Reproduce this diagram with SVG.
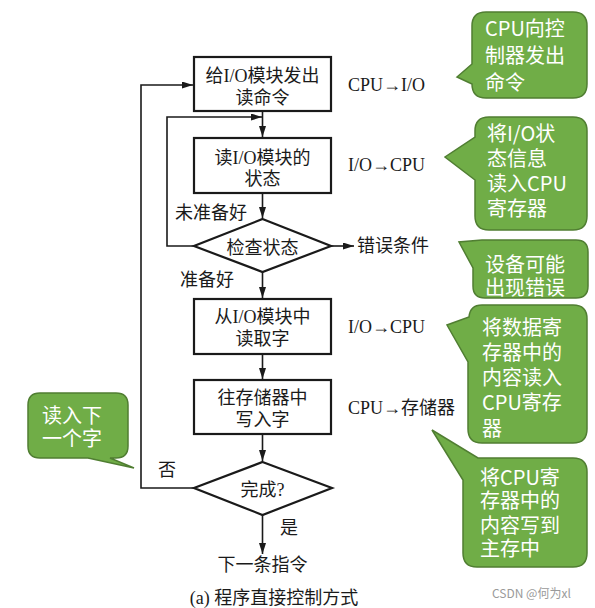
<svg xmlns="http://www.w3.org/2000/svg" width="595" height="608" viewBox="0 0 595 608">
<style>
.bg{fill:#ffffff}
.box{fill:#ffffff;stroke:#1a1a1a;stroke-width:2.2}
.ln{fill:none;stroke:#1a1a1a;stroke-width:1.6}
.t{font-family:"Liberation Serif","Noto Sans CJK SC",serif;font-size:18px;fill:#1a1a1a}
.m{text-anchor:middle}
.co{fill:#70ad47;stroke:#507e32;stroke-width:1.5}
.ct{font-family:"Noto Sans CJK SC","Noto Sans",sans-serif;font-size:20px;fill:#ffffff}
.wm{font-family:"Noto Sans CJK SC","Noto Sans",sans-serif;font-size:12px;fill:#9a9a9a}
</style>
<defs>
<marker id="ah" markerUnits="userSpaceOnUse" markerWidth="11" markerHeight="7" refX="11" refY="3.5" orient="auto">
<path d="M0,0 L11,3.5 L0,7 z" fill="#1a1a1a"/>
</marker>
</defs>
<rect class="bg" x="0" y="0" width="595" height="608"/>

<g id="connectors">
<path class="ln" d="M194,488 H141 V85 H193" marker-end="url(#ah)"/>
<path class="ln" d="M262.5,111 V137" marker-end="url(#ah)"/>
<path class="ln" d="M194,246 H167 V117 H262" marker-end="url(#ah)"/>
<path class="ln" d="M262.5,193 V218" marker-end="url(#ah)"/>
<path class="ln" d="M331,246 H354" marker-end="url(#ah)"/>
<path class="ln" d="M262.5,272 V298" marker-end="url(#ah)"/>
<path class="ln" d="M262.5,354 V379" marker-end="url(#ah)"/>
<path class="ln" d="M262.5,434 V461" marker-end="url(#ah)"/>
<path class="ln" d="M262.5,515 V554" marker-end="url(#ah)"/>
</g>

<g id="n1">
<rect class="box" x="194" y="57" width="137" height="54"/>
<text class="t m" x="262.5" y="82">给I/O模块发出</text>
<text class="t m" x="262.5" y="104">读命令</text>
</g>
<g id="n2">
<rect class="box" x="194" y="138" width="137" height="55"/>
<text class="t m" x="262.5" y="164">读I/O模块的</text>
<text class="t m" x="262.5" y="185">状态</text>
</g>
<g id="d1">
<polygon class="box" points="262.5,219 331,246 262.5,272 194,246"/>
<text class="t m" x="262.5" y="254">检查状态</text>
</g>
<g id="n3">
<rect class="box" x="194" y="299" width="137" height="55"/>
<text class="t m" x="262.5" y="323">从I/O模块中</text>
<text class="t m" x="262.5" y="345">读取字</text>
</g>
<g id="n4">
<rect class="box" x="194" y="380" width="137" height="54"/>
<text class="t m" x="262.5" y="404">往存储器中</text>
<text class="t m" x="262.5" y="426">写入字</text>
</g>
<g id="d2">
<polygon class="box" points="262.5,462 332,488 262.5,515 194,488"/>
<text class="t m" x="262.5" y="496">完成?</text>
</g>
<g id="end">
<text class="t m" x="262.5" y="571">下一条指令</text>
</g>

<g id="labels">
<text class="t" x="348" y="91">CPU→I/O</text>
<text class="t" x="348" y="171">I/O→CPU</text>
<text class="t" x="175" y="219">未准备好</text>
<text class="t" x="357" y="252">错误条件</text>
<text class="t" x="180" y="286">准备好</text>
<text class="t" x="348" y="333">I/O→CPU</text>
<text class="t" x="348" y="414">CPU→存储器</text>
<text class="t" x="158" y="476">否</text>
<text class="t" x="280" y="534">是</text>
<text class="t m" x="274" y="604">(a) 程序直接控制方式</text>
</g>

<g id="c1">
<path class="co" d="M486,12 H573 Q587,12 587,26 V84 Q587,98 573,98 H486 Q472,98 472,84 V84 L457,77 L472,64 V26 Q472,12 486,12 Z"/>
<text class="ct" x="485" y="36">CPU向控</text>
<text class="ct" x="485" y="63">制器发出</text>
<text class="ct" x="485" y="90">命令</text>
</g>
<g id="c2">
<path class="co" d="M489,117 H573 Q587,117 587,131 V216 Q587,230 573,230 H489 Q475,230 475,216 V180 L445,157 L475,137 V131 Q475,117 489,117 Z"/>
<text class="ct" x="487" y="141">将I/O状</text>
<text class="ct" x="487" y="166">态信息</text>
<text class="ct" x="487" y="191">读入CPU</text>
<text class="ct" x="487" y="216">寄存器</text>
</g>
<g id="c3">
<path class="co" d="M482,240 H576 Q588,240 588,252 V286 Q588,298 576,298 H485 Q473,298 473,286 V268 L459,242 Z"/>
<text class="ct" x="485" y="272">设备可能</text>
<text class="ct" x="485" y="295">出现错误</text>
</g>
<g id="c4">
<path class="co" d="M482,305 H573 Q587,305 587,319 V429 Q587,443 573,443 H482 Q468,443 468,429 V362 L447,325 L469,317 Q470,305 482,305 Z"/>
<text class="ct" x="482" y="335">将数据寄</text>
<text class="ct" x="482" y="360">存器中的</text>
<text class="ct" x="482" y="385">内容读入</text>
<text class="ct" x="482" y="410">CPU寄存</text>
<text class="ct" x="482" y="436">器</text>
</g>
<g id="c5">
<path class="co" d="M478,458 H573 Q587,458 587,472 V553 Q587,567 573,567 H477 Q463,567 463,553 V480 L432,430 Z"/>
<text class="ct" x="480" y="485">将CPU寄</text>
<text class="ct" x="480" y="508">存器中的</text>
<text class="ct" x="480" y="533">内容写到</text>
<text class="ct" x="480" y="556">主存中</text>
</g>
<g id="c6">
<path class="co" d="M40,393 H116 Q128,393 128,405 V446 Q128,458 116,458 H110 L134,468 L88,458 H40 Q28,458 28,446 V405 Q28,393 40,393 Z"/>
<text class="ct" x="42" y="423">读入下</text>
<text class="ct" x="42" y="446">一个字</text>
</g>
<text class="wm" x="492" y="598">CSDN @何为xl</text>
</svg>
